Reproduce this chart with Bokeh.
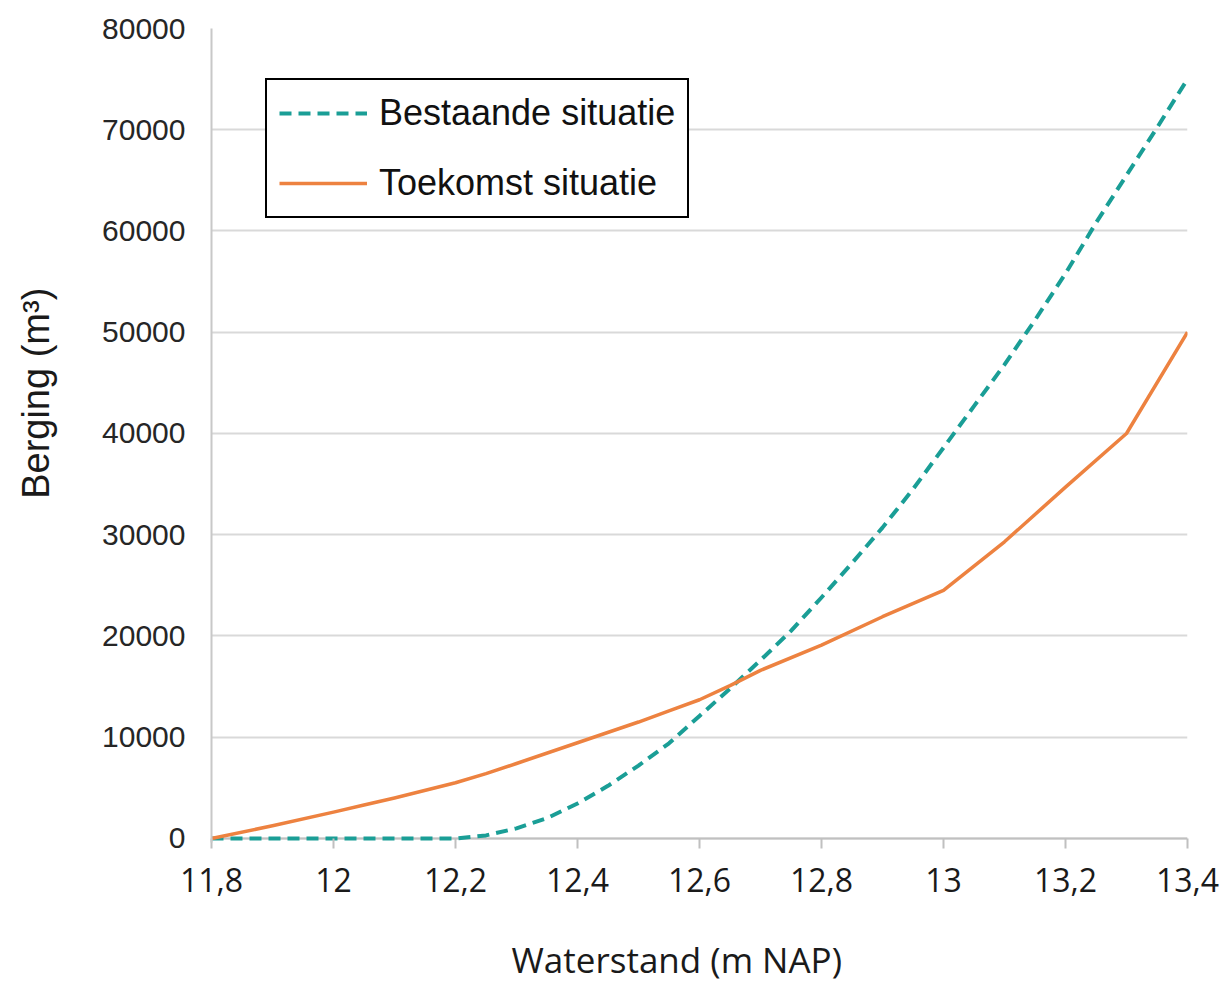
from bokeh.plotting import figure
from bokeh.models import Range1d, FixedTicker, Legend, LegendItem, Span
from bokeh.embed import file_html
from bokeh.resources import INLINE

# ---- data ----
waterstand_bestaand = [11.8, 11.9, 12.0, 12.1, 12.2, 12.25, 12.3, 12.35, 12.4, 12.45,
                       12.5, 12.55, 12.6, 12.65, 12.7, 12.75, 12.8, 12.85, 12.9, 12.95,
                       13.0, 13.05, 13.1, 13.15, 13.2, 13.25, 13.3, 13.35, 13.4]
berging_bestaand = [0, 0, 0, 0, 0, 300, 1000, 2000, 3450, 5200,
                    7200, 9400, 12100, 14800, 17600, 20500, 23800, 27200, 30700, 34500,
                    38600, 42700, 46800, 51200, 55800, 60800, 65500, 70200, 75000]

waterstand_toekomst = [11.8, 11.9, 12.0, 12.05, 12.1, 12.2, 12.25, 12.3, 12.4, 12.5,
                       12.55, 12.6, 12.65, 12.7, 12.8, 12.9, 13.0, 13.1, 13.2, 13.3, 13.4]
berging_toekomst = [0, 1250, 2600, 3300, 4000, 5500, 6400, 7400, 9450, 11500,
                    12600, 13700, 15100, 16600, 19100, 21900, 24500, 29300, 34700, 40000, 50000]

series_names = ["Bestaande situatie", "Toekomst situatie"]

x_ticks = [11.8, 12.0, 12.2, 12.4, 12.6, 12.8, 13.0, 13.2, 13.4]
x_tick_labels = ["11,8", "12", "12,2", "12,4", "12,6", "12,8", "13", "13,2", "13,4"]
y_ticks = [0, 10000, 20000, 30000, 40000, 50000, 60000, 70000, 80000]
y_tick_labels = ["0", "10000", "20000", "30000", "40000", "50000", "60000", "70000", "80000"]

x_title = "Waterstand (m NAP)"
y_title = "Berging (m\u00b3)"

TEAL = "#1A9E96"
ORANGE = "#ED8240"
AXIS_GRAY = "#c0c0c0"
NBSP = "\u00a0"

p = figure(width=1222, height=986, output_backend="svg", toolbar_location=None,
           x_range=Range1d(11.8, 13.4), y_range=Range1d(-400, 80000),
           min_border_left=211, min_border_right=35, min_border_top=28, min_border_bottom=144)
p.outline_line_color = None
p.background_fill_color = "white"
p.border_fill_color = "white"

# grid
p.xgrid.grid_line_color = None
p.ygrid.grid_line_color = "#d9d9d9"
p.ygrid.grid_line_width = 2
p.ygrid.ticker = FixedTicker(ticks=y_ticks)

# base line at zero (drawn under the series)
p.add_layout(Span(location=0, dimension="width", line_color=AXIS_GRAY, line_width=2,
                  level="underlay"))

# x axis
p.xaxis.ticker = FixedTicker(ticks=x_ticks)
p.xaxis.major_label_overrides = {t: l for t, l in zip(x_ticks, x_tick_labels)}
p.xaxis.axis_line_color = None
p.xaxis.major_tick_line_color = AXIS_GRAY
p.xaxis.major_tick_line_width = 2
p.xaxis.major_tick_out = 6
p.xaxis.major_tick_in = 4
p.xaxis.minor_tick_line_color = None
p.xaxis.major_label_text_font = "Open Sans"
p.xaxis.major_label_text_font_size = "32px"
p.xaxis.major_label_text_color = "#1a1a1a"
p.xaxis.major_label_standoff = 19
# trailing no-break spaces shift the centred title slightly left, as in the reference
p.xaxis.axis_label = x_title + NBSP * 5
p.xaxis.axis_label_text_font = "Open Sans"
p.xaxis.axis_label_text_font_size = "35px"
p.xaxis.axis_label_text_font_style = "normal"
p.xaxis.axis_label_text_color = "#1a1a1a"
p.xaxis.axis_label_standoff = 41

# y axis
p.yaxis.ticker = FixedTicker(ticks=y_ticks)
p.yaxis.major_label_overrides = {t: l for t, l in zip(y_ticks, y_tick_labels)}
p.yaxis.axis_line_color = "#c8c8c8"
p.yaxis.axis_line_width = 2
p.yaxis.major_tick_line_color = None
p.yaxis.minor_tick_line_color = None
p.yaxis.major_tick_out = 0
p.yaxis.major_tick_in = 0
p.yaxis.major_label_text_font = "Liberation Sans"
p.yaxis.major_label_text_font_size = "30px"
p.yaxis.major_label_text_color = "#262626"
p.yaxis.major_label_standoff = 26
# leading no-break spaces lift the centred title, as in the reference
p.yaxis.axis_label = NBSP * 8 + y_title
p.yaxis.axis_label_text_font = "Liberation Sans"
p.yaxis.axis_label_text_font_size = "38px"
p.yaxis.axis_label_text_font_style = "normal"
p.yaxis.axis_label_text_color = "#1a1a1a"
p.yaxis.axis_label_standoff = 42

# lines
r_b = p.line(waterstand_bestaand, berging_bestaand, line_color=TEAL, line_width=4,
             line_dash="12 7", line_join="round")
r_t = p.line(waterstand_toekomst, berging_toekomst, line_color=ORANGE, line_width=3.5,
             line_join="round")

legend = Legend(items=[LegendItem(label=series_names[0], renderers=[r_b]),
                       LegendItem(label=series_names[1], renderers=[r_t])],
                location=(54, 624), margin=0, padding=12, spacing=28,
                glyph_width=88, glyph_height=40, label_height=40, label_standoff=12,
                label_text_font="Liberation Sans", label_text_font_size="36px",
                label_text_color="#111111",
                border_line_color="black", border_line_width=2, border_line_alpha=1.0,
                background_fill_color="white", background_fill_alpha=1.0)
p.add_layout(legend, "center")

open("out.html", "w").write(file_html(p, INLINE))
